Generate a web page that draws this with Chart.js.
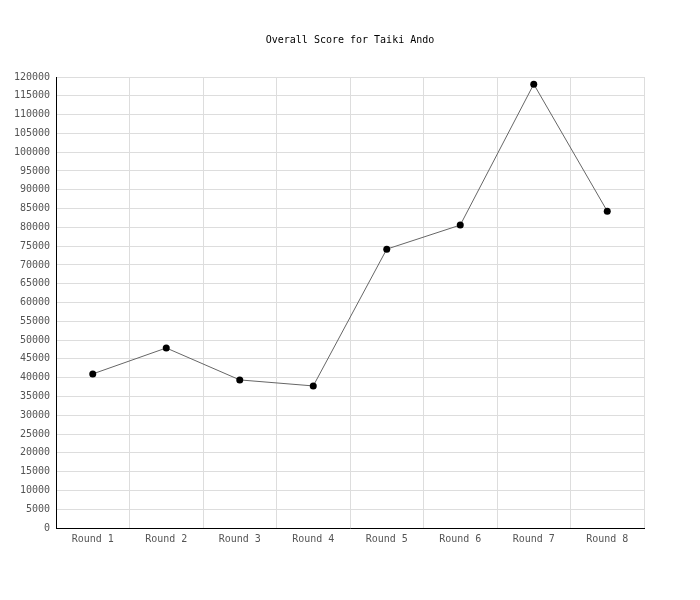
<!DOCTYPE html>
<html><head><meta charset="utf-8">
<script src="https://cdn.jsdelivr.net/npm/chart.js@4/dist/chart.umd.min.js"></script>
<style>html,body{margin:0;padding:0;background:#fff}#wrap{width:700px;height:600px}</style>
</head><body><div id="wrap"><canvas id="c" width="700" height="600"></canvas></div>
<script>
const titleText = "Overall Score for Taiki Ando";
const categories = ["Round 1","Round 2","Round 3","Round 4","Round 5","Round 6","Round 7","Round 8"];
const scores = [41000, 47900, 39400, 37800, 74200, 80600, 118100, 84300];
const yMin = 0, yMax = 120000, yStep = 5000;

const font = {family: "'DejaVu Sans Mono', monospace", size: 10, weight: 'normal'};
new Chart(document.getElementById('c'), {
  type: 'line',
  data: {labels: categories, datasets: [{
    data: scores, borderColor: '#666', borderWidth: 1, tension: 0,
    pointRadius: 3.5, pointBackgroundColor: '#000', pointBorderColor: '#000', pointBorderWidth: 0
  }]},
  options: {
    responsive: false, animation: false, devicePixelRatio: 1,
    layout: {padding: {left: 0, right: 0, top: 0, bottom: 42}},
    plugins: {
      legend: {display: false}, tooltip: {enabled: false},
      title: {display: true, text: titleText, color: '#000', font: font, padding: {top: 34, bottom: 31}}
    },
    scales: {
      x: {
        offset: true,
        grid: {color: '#dddddd', offset: true, drawTicks: false},
        border: {color: '#000', width: 1},
        ticks: {color: '#555', font: font, padding: 5, maxRotation: 0},
        afterFit: s => { s.height = 30; }
      },
      y: {
        min: yMin, max: yMax,
        grid: {color: '#dddddd', drawTicks: false},
        border: {color: '#000', width: 1},
        ticks: {stepSize: yStep, color: '#555', font: font, padding: 6, callback: v => String(v)},
        afterFit: s => { s.width = 56; }
      },
      yRight: {
        position: 'right', min: yMin, max: yMax,
        grid: {display: false}, border: {display: false},
        ticks: {display: false},
        afterFit: s => { s.width = 56; }
      }
    }
  }
});
</script></body></html>
